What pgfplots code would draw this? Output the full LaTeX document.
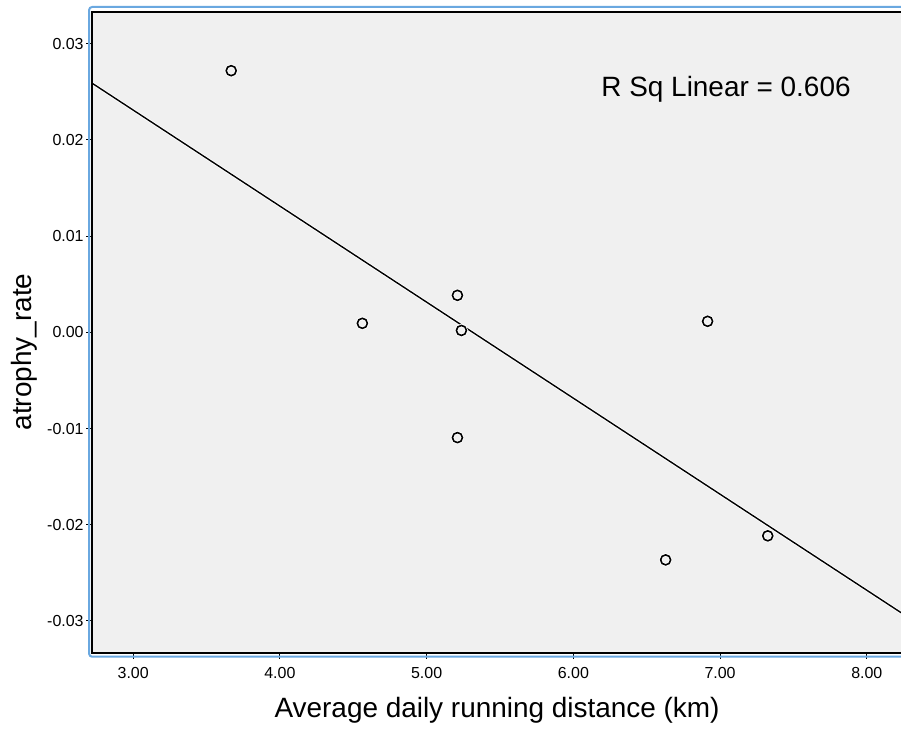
\documentclass[border=0pt]{standalone}
\usepackage{pgfplots}
\pgfplotsset{compat=1.18}
\usepackage{fontspec}
\setmainfont{Liberation Sans}
\definecolor{bg}{HTML}{F0F0F0}
\definecolor{spssblue}{HTML}{6AA8E0}
\begin{document}
\begin{tikzpicture}
\begin{axis}[name=ax, scale only axis, width=809bp, height=640bp,
  xmin=2.72, xmax=8.24, ymin=-0.0333, ymax=0.0333,
  axis background/.style={fill=bg},
  axis line style={draw=none},
  clip mode=individual,
  xtick={3,4,5,6,7,8},
  ytick={-0.03,-0.02,-0.01,0,0.01,0.02,0.03},
  tick align=outside, major tick length=6bp,
  tick style={black, line width=1bp},
  xtick pos=bottom, ytick pos=left,
  scaled y ticks=false, scaled x ticks=false,
  ticklabel style={font=\fontsize{16}{19}\selectfont},
  xticklabel style={yshift=-5bp},
  yticklabel style={xshift=1bp},
  xticklabel={\pgfmathprintnumber[fixed,fixed zerofill,precision=2,assume math mode=true]{\tick}},
  yticklabel={\pgfmathprintnumber[fixed,fixed zerofill,precision=2,assume math mode=true]{\tick}},
  xlabel={Average daily running distance (km)},
  ylabel={atrophy\_rate},
  label style={font=\fontsize{28}{34}\selectfont},
  xlabel style={at={(axis description cs:0.5,-0.0891)}, anchor=center},
  ylabel style={at={(axis description cs:-0.0841,0.4695)}, anchor=center},
]
\addplot[white, line width=3bp] coordinates {(2.72,0.0259) (8.24,-0.0292)};
\addplot[black, line width=1.4bp] coordinates {(2.72,0.0259) (8.24,-0.0292)};
\addplot[only marks, mark=o, mark size=5bp, mark options={white, line width=3.2bp}] coordinates {
(3.668,0.0272)
(4.562,0.00094)
(5.210,0.00385)
(5.237,0.0002)
(5.210,-0.01094)
(6.915,0.00115)
(6.629,-0.02365)
(7.325,-0.02115)
};
\addplot[only marks, mark=o, mark size=5bp, mark options={black, line width=1.6bp, fill=bg}] coordinates {
(3.668,0.0272)
(4.562,0.00094)
(5.210,0.00385)
(5.237,0.0002)
(5.210,-0.01094)
(6.915,0.00115)
(6.629,-0.02365)
(7.325,-0.02115)
};
\node[anchor=base west, inner sep=0pt, font=\fontsize{28}{34}\selectfont] at (axis cs:6.19,0.02448) {R Sq Linear = 0.606};
\end{axis}
\draw[black, line width=2bp] (ax.north east) -- (ax.north west) -- (ax.south west) -- (ax.south east);
\draw[spssblue, line width=2bp, rounded corners=3bp] ([shift={(0,5bp)}]ax.north east) -- ([shift={(-3bp,5bp)}]ax.north west) -- ([shift={(-3bp,-4bp)}]ax.south west) -- ([shift={(0,-4bp)}]ax.south east);
\pgfresetboundingbox
\path ([shift={(-92bp,-77bp)}]ax.south west) rectangle ([shift={(-1bp,12bp)}]ax.north east);
\end{tikzpicture}
\end{document}
